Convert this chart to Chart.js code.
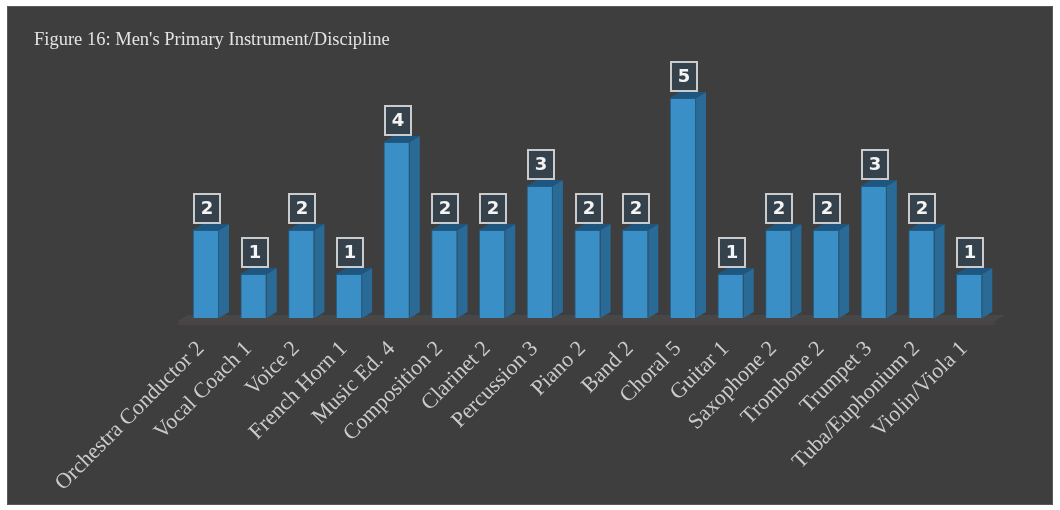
<!DOCTYPE html>
<html>
<head>
<meta charset="utf-8">
<script src="https://cdn.jsdelivr.net/npm/chart.js@4/dist/chart.umd.min.js"></script>
<style>
  html, body { margin: 0; padding: 0; background: #ffffff; }
  #wrap { position: relative; width: 1060px; height: 510px; }
</style>
</head>
<body>
<div id="wrap"><canvas id="grafica" width="1060" height="510"></canvas></div>
<script>
// Datos de la figura
const instrumentos = ['Orchestra Conductor', 'Vocal Coach', 'Voice', 'French Horn', 'Music Ed.',
  'Composition', 'Clarinet', 'Percussion', 'Piano', 'Band', 'Choral', 'Guitar',
  'Saxophone', 'Trombone', 'Trumpet', 'Tuba/Euphonium', 'Violin/Viola'];
const cantidades = [2, 1, 2, 1, 4, 2, 2, 3, 2, 2, 5, 1, 2, 2, 3, 2, 1];
const etiquetas = instrumentos.map((n, i) => n + ' ' + cantidades[i]);
const titulo = "Figure 16: Men's Primary Instrument/Discipline";

const PROF_X = 10, PROF_Y = 6;   // profundidad del efecto 3D

// Fondo oscuro, suelo y titulo
const fondo = {
  id: 'fondo',
  beforeDraw(chart) {
    const ctx = chart.ctx, a = chart.chartArea;
    ctx.save();
    ctx.fillStyle = '#3e3e3e';
    ctx.fillRect(7, 6, 1046, 499);
    ctx.strokeStyle = '#5a5a5a';
    ctx.lineWidth = 1;
    ctx.strokeRect(7.5, 6.5, 1045, 498);
    // suelo
    ctx.fillStyle = '#474747';
    ctx.beginPath();
    ctx.moveTo(a.left - 4, a.bottom + 3);
    ctx.lineTo(a.right + 2, a.bottom + 3);
    ctx.lineTo(a.right + 2 + PROF_X, a.bottom + 3 - PROF_Y);
    ctx.lineTo(a.left - 4 + PROF_X, a.bottom + 3 - PROF_Y);
    ctx.closePath();
    ctx.fill();
    ctx.fillStyle = '#4a4343';
    ctx.fillRect(a.left - 4, a.bottom + 3, a.right - a.left + 6, 4);
    // titulo
    ctx.fillStyle = '#e4e4e4';
    ctx.font = '18.5px "Liberation Serif", serif';
    ctx.textBaseline = 'alphabetic';
    ctx.fillText(titulo, 34, 45);
    ctx.restore();
  }
};

// Cara lateral y superior de cada barra + cajas con el valor
const barras3d = {
  id: 'barras3d',
  beforeDatasetsDraw(chart) {
    const ctx = chart.ctx;
    ctx.save();
    chart.getDatasetMeta(0).data.forEach(bar => {
      const w = bar.width / 2;
      const r = bar.x + w, l = bar.x - w;
      // lateral
      ctx.fillStyle = '#2a6a96';
      ctx.beginPath();
      ctx.moveTo(r, bar.y);
      ctx.lineTo(r + PROF_X, bar.y - PROF_Y);
      ctx.lineTo(r + PROF_X, bar.base - PROF_Y);
      ctx.lineTo(r, bar.base);
      ctx.closePath();
      ctx.fill();
      // superior
      ctx.fillStyle = '#1f5680';
      ctx.beginPath();
      ctx.moveTo(l, bar.y);
      ctx.lineTo(l + PROF_X, bar.y - PROF_Y);
      ctx.lineTo(r + PROF_X, bar.y - PROF_Y);
      ctx.lineTo(r, bar.y);
      ctx.closePath();
      ctx.fill();
    });
    ctx.restore();
  },
  afterDatasetsDraw(chart) {
    const ctx = chart.ctx;
    const valores = chart.data.datasets[0].data;
    ctx.save();
    chart.getDatasetMeta(0).data.forEach((bar, i) => {
      const bw = 28, bh = 31;
      const x = Math.round(bar.x - bw / 2) + 1, y = Math.round(bar.y - PROF_Y - bh);
      ctx.fillStyle = '#35424c';
      ctx.fillRect(x, y, bw, bh);
      ctx.strokeStyle = '#c9cbcc';
      ctx.lineWidth = 2;
      ctx.strokeRect(x + 1, y + 1, bw - 2, bh - 2);
      ctx.fillStyle = '#f4f4f4';
      ctx.font = 'bold 18px "DejaVu Sans", sans-serif';
      ctx.textAlign = 'center';
      ctx.textBaseline = 'middle';
      ctx.fillText(String(valores[i]), x + bw / 2, y + bh / 2 + 1);
    });
    ctx.restore();
  }
};

new Chart(document.getElementById('grafica'), {
  type: 'bar',
  data: {
    labels: etiquetas,
    datasets: [{
      data: cantidades,
      backgroundColor: '#3a8fc6',
      borderColor: '#1f5d88',
      borderWidth: 1,
      barPercentage: 0.55,
      categoryPercentage: 1
    }]
  },
  options: {
    responsive: false,
    animation: false,
    layout: { padding: { left: 182, right: 67, top: 54, bottom: 0 } },
    plugins: { legend: { display: false }, tooltip: { enabled: false } },
    scales: {
      x: {
        grid: { display: false },
        border: { display: false },
        ticks: {
          color: '#cbcbcb',
          font: { family: '"Liberation Serif", serif', size: 22 },
          minRotation: 45,
          maxRotation: 45,
          autoSkip: false,
          padding: 10,
          labelOffset: -5
        },
        afterFit(s) { s.height = 192; }
      },
      y: {
        display: false,
        min: 0,
        max: 6
      }
    }
  },
  plugins: [fondo, barras3d]
});
</script>
</body>
</html>
